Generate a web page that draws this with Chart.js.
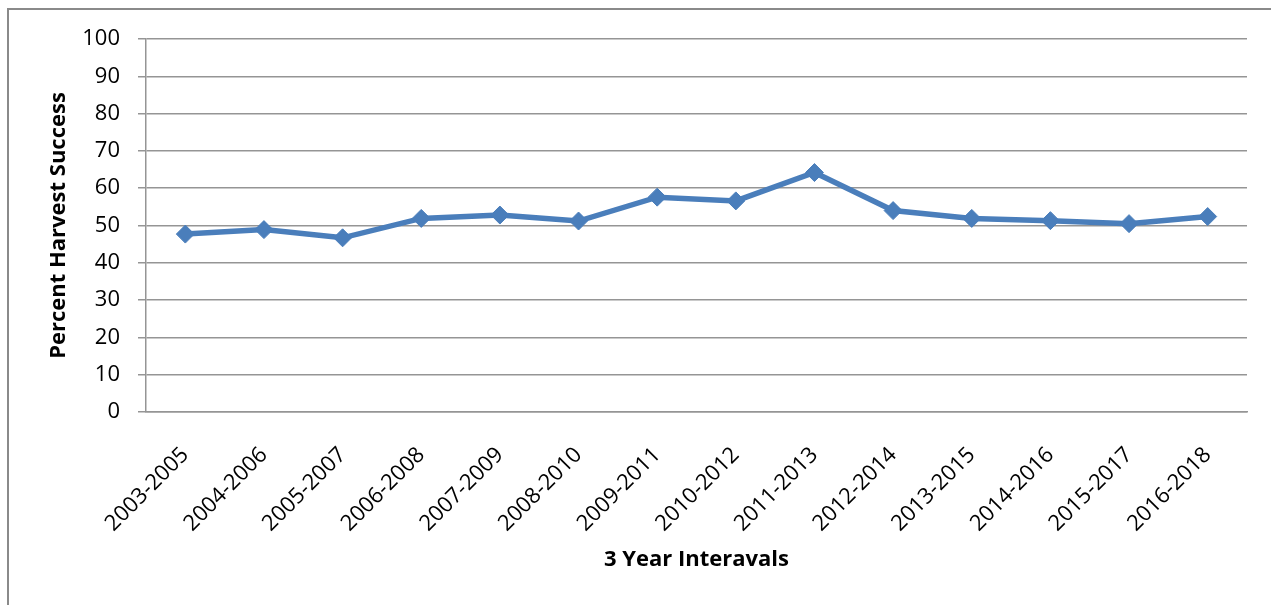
<!DOCTYPE html>
<html>
<head>
<meta charset="utf-8">
<script src="https://cdn.jsdelivr.net/npm/chart.js@4.4.1/dist/chart.umd.min.js"></script>
<style>
  html, body { margin: 0; padding: 0; background: #fff; overflow: hidden; }
  #wrap { position: relative; width: 1271px; height: 605px; }
  #frame { position: absolute; left: 7px; top: 8px; width: 1290px; height: 620px;
           border-left: 2px solid #8a8a8a; border-top: 2px solid #8a8a8a; }
</style>
</head>
<body>
<div id="wrap">
  <div id="frame"></div>
  <canvas id="harvest-chart"></canvas>
</div>
<script>
const intervals = ['2003-2005', '2004-2006', '2005-2007', '2006-2008', '2007-2009', '2008-2010', '2009-2011',
                   '2010-2012', '2011-2013', '2012-2014', '2013-2015', '2014-2016', '2015-2017', '2016-2018'];
const harvestSuccess = [47.7, 48.9, 46.7, 51.9, 52.8, 51.2, 57.6, 56.6, 64.2, 54.0, 51.9, 51.3, 50.5, 52.4];
const yMin = 0, yMax = 100, yStep = 10;

const gridGrey = '#959595';
const lineBlue = '#4a7ebb';
const fontFamily = "'Open Sans', 'Noto Sans', sans-serif";

const ctx = document.getElementById('harvest-chart').getContext('2d');
const harvestChart = new Chart(ctx, {
    type: 'line',
    data: {
        labels: intervals,
        datasets: [{
            data: harvestSuccess,
            borderColor: lineBlue,
            backgroundColor: lineBlue,
            borderWidth: 5.5,
            pointStyle: 'rectRot',
            pointRadius: 9,
            pointBorderWidth: 1,
            tension: 0
        }]
    },
    options: {
        responsive: true, maintainAspectRatio: false, animation: false,
        layout: { padding: { left: 8, top: 39, right: 24, bottom: 0 } },
        plugins: { legend: { display: false }, tooltip: { enabled: false } },
        scales: {
            x: {
                offset: true,
                grid: { display: false },
                border: { display: true, color: gridGrey, width: 1.5 },
                ticks: {
                    autoSkip: false, maxRotation: 45, minRotation: 45, padding: 22,
                    color: '#000', font: { family: fontFamily, size: 22 }
                },
                title: {
                    display: true, text: '3 Year Interavals', color: '#000',
                    font: { family: fontFamily, size: 22, weight: 'bold' },
                    padding: { top: 0, bottom: 32 }
                },
                afterFit: (scale) => { scale.height = 193; }
            },
            y: {
                min: yMin, max: yMax,
                grid: { color: gridGrey, lineWidth: 1.5, tickLength: 8, drawTicks: true },
                border: { display: true, color: gridGrey, width: 1.5 },
                ticks: {
                    stepSize: yStep, padding: 18,
                    color: '#000', font: { family: fontFamily, size: 22 }
                },
                title: {
                    display: true, text: 'Percent Harvest Success', color: '#000',
                    font: { family: fontFamily, size: 22, weight: 'bold' },
                    padding: { top: 38, bottom: 0 }
                },
                afterFit: (scale) => { scale.width = 138; }
            }
        }
    }
});
</script>
</body>
</html>
